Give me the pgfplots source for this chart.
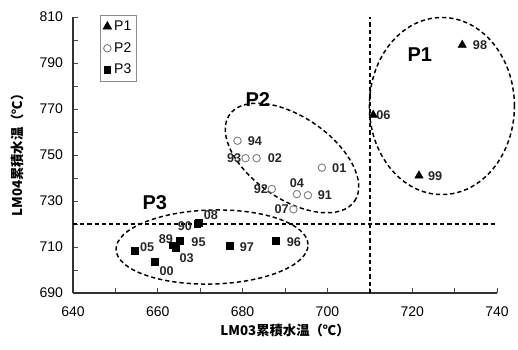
\documentclass[border=0pt]{standalone}
\usepackage{pgfplots}
\pgfplotsset{compat=1.18}
\usepackage{fontspec}
\setmainfont{Liberation Sans}
\newfontfamily\cjk{Noto Sans CJK JP}
\usetikzlibrary{shapes.geometric}

\tikzset{
  grpline/.style={black, line width=1.1pt, dash pattern=on 3.2pt off 2.2pt},
  yr/.style={font=\fontsize{9.5}{10}\selectfont\bfseries, inner sep=0pt, text=black!85},
  grp/.style={font=\fontsize{15}{16}\selectfont\bfseries, inner sep=0pt},
}

\begin{document}
\begin{tikzpicture}
\useasboundingbox (-54.75pt,-42.75pt) rectangle (333.75pt,219.75pt);
\begin{axis}[
  anchor=south west, at={(0pt,0pt)},
  scale only axis, width=318pt, height=207pt,
  xmin=640, xmax=740, ymin=690, ymax=810,
  axis lines=left, axis line style={-, black!80, line width=0.8pt},
  xtick={640,660,...,740}, minor xtick={650,670,...,730},
  ytick={690,710,...,810}, minor ytick={700,720,...,800},
  tick align=inside, major tick length=3.5pt, minor tick length=3.5pt,
  tick style={black!70, line width=0.6pt},
  ticklabel style={font=\fontsize{10.5}{12}\selectfont},
  xticklabel style={yshift=-7pt},
  yticklabel style={xshift=-4pt},
  /pgf/number format/assume math mode=true,
  /pgf/number format/1000 sep={},
  xlabel={\cjk\bfseries LM03累積水温（℃）},
  ylabel={\cjk\bfseries LM04累積水温（℃）},
  xlabel style={at={(axis description cs:0.5,-0.134)}, anchor=center, font=\fontsize{10}{12}\selectfont},
  ylabel style={at={(axis description cs:-0.13,0.511)}, anchor=center, rotate=0, font=\fontsize{10}{12}\selectfont},
  clip=false,
  legend style={at={(rel axis cs:0.064,1.007)}, anchor=north west, draw=black!45, line width=0.6pt,
    font=\fontsize{10.5}{12}\selectfont, row sep=3.5pt, inner sep=2pt, cells={anchor=west}},
  legend cell align=left,
  legend image code/.code={\draw[#1] plot coordinates {(0.12cm,0cm)};},
]
% P1
\addplot[only marks, mark=triangle*, mark size=3.6pt, black] coordinates {
  (731.8,797.8) (710.8,767.4) (721.6,741.0)
};
\addlegendentry{P1}
% P2
\addplot[only marks, mark=o, mark size=2.8pt, black!50, mark options={line width=0.7pt}] coordinates {
  (678.8,756.2) (680.7,748.6) (683.3,748.6) (698.7,744.5) (686.9,735.2)
  (692.8,733.0) (695.4,732.5) (692.0,726.4)
};
\addlegendentry{P2}
% P3
\addplot[only marks, mark=square*, mark size=2.5pt, black] coordinates {
  (669.6,720.6) (669.3,720.2) (665.2,712.7) (664.3,709.7) (663.6,710.8)
  (654.5,708.3) (659.3,703.6) (676.9,710.4) (687.8,712.7)
};
\addlegendentry{P3}

% group boundaries
\draw[grpline] (axis cs:710,690) -- (axis cs:710,810);
\draw[grpline] (axis cs:640,720) -- (axis cs:740,720);
\node[grpline, draw, ellipse, inner sep=0pt, minimum width=108.8pt, minimum height=132.8pt]
  at (axis cs:727.0,771.3) {};
\node[grpline, draw, ellipse, inner sep=0pt, minimum width=114pt, minimum height=61.5pt, rotate=-34.6]
  at (axis cs:691.65,748.7) {};
\node[grpline, draw, ellipse, inner sep=0pt, minimum width=144pt, minimum height=55.5pt, rotate=1.5]
  at (axis cs:672.8,710.0) {};

\node[grp] at (axis cs:721.8,793.5) {P1};
\node[grp] at (axis cs:683.6,774.3) {P2};
\node[grp] at (axis cs:659.3,729.1) {P3};

% year labels
\node[yr] at (axis cs:736.0,797.8) {98};
\node[yr] at (axis cs:713.2,767.4) {06};
\node[yr] at (axis cs:725.4,741.0) {99};
\node[yr] at (axis cs:682.9,756.2) {94};
\node[yr] at (axis cs:678.0,748.6) {93};
\node[yr] at (axis cs:687.6,748.6) {02};
\node[yr] at (axis cs:702.8,744.5) {01};
\node[yr] at (axis cs:684.3,735.2) {92};
\node[yr] at (axis cs:692.8,737.95) {04};
\node[yr] at (axis cs:699.4,732.5) {91};
\node[yr] at (axis cs:689.2,726.4) {07};
\node[yr] at (axis cs:672.5,723.9) {08};
\node[yr] at (axis cs:666.4,719.1) {90};
\node[yr] at (axis cs:661.9,713.3) {89};
\node[yr] at (axis cs:669.6,712.3) {95};
\node[yr] at (axis cs:666.8,705.1) {03};
\node[yr] at (axis cs:657.5,709.9) {05};
\node[yr] at (axis cs:662.1,699.3) {00};
\node[yr] at (axis cs:681.0,710.1) {97};
\node[yr] at (axis cs:692.1,712.3) {96};
\end{axis}
\end{tikzpicture}
\end{document}
